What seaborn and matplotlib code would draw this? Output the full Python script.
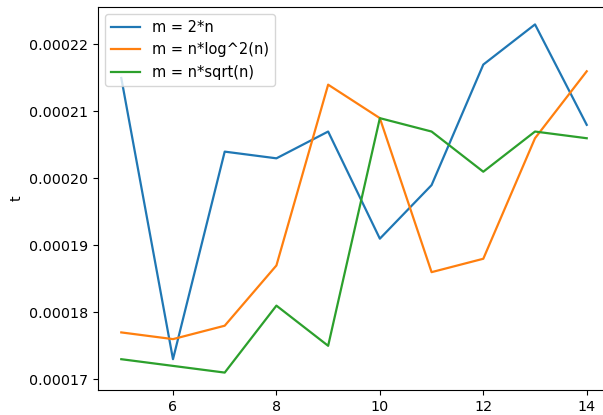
import pandas as pd
import seaborn as sns
import matplotlib.pyplot as plt

n_values = [5, 6, 7, 8, 9, 10, 11, 12, 13, 14]
t_2n = [0.000215, 0.000173, 0.000204, 0.000203, 0.000207, 0.000191, 0.000199, 0.000217, 0.000223, 0.000208]
t_nlog2n = [0.000177, 0.000176, 0.000178, 0.000187, 0.000214, 0.000209, 0.000186, 0.000188, 0.000206, 0.000216]
t_nsqrtn = [0.000173, 0.000172, 0.000171, 0.000181, 0.000175, 0.000209, 0.000207, 0.000201, 0.000207, 0.000206]
series_labels = ["m = 2*n", "m = n*log^2(n)", "m = n*sqrt(n)"]
colors = ["#1f77b4", "#ff7f0e", "#2ca02c"]

df = pd.concat(
    [
        pd.DataFrame({"n": n_values, "t": vals, "m": lab})
        for vals, lab in zip([t_2n, t_nlog2n, t_nsqrtn], series_labels)
    ],
    ignore_index=True,
)

fig = plt.figure(figsize=(6.03, 4.15), dpi=100)
# the reference is a cropped screenshot: right spine lies just outside
ax = fig.add_axes([98 / 603, 25 / 415, 512 / 603, 383 / 415])

sns.lineplot(data=df, x="n", y="t", hue="m", palette=colors, linewidth=1.6, ax=ax)

handles, labels = ax.get_legend_handles_labels()
ax.legend(handles, labels, loc="upper left", fontsize=10.5)

ax.set_xticks([6, 8, 10, 12, 14])
ax.tick_params(labelsize=10.3)
ax.set_ylabel("t", fontsize=10.3)
ax.set_xlabel("")

plt.savefig("out.png", dpi=100)
